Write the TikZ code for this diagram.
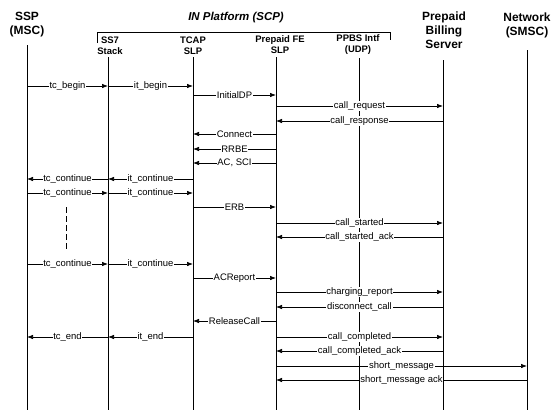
\documentclass[tikz,border=0pt]{standalone}
\usepackage{fontspec}
\setmainfont{Liberation Sans}
\usetikzlibrary{arrows.meta,calc}
\newcommand\msgx[4]{\draw[msg] (#1T |- 0,#3) -- (#2T |- 0,#3) node[midway,lbl]{#4};}
\begin{document}
\begin{tikzpicture}[x=1bp,y=-1bp,
  life/.style={line width=0.8bp},
  msg/.style={line width=0.7bp,-{Latex[length=6bp,width=4.5bp]}},
  lbl/.style={fill=white,inner sep=0.7bp,font=\fontsize{9.5}{10}\selectfont},
  hdr/.style={font=\fontsize{12}{14}\selectfont\bfseries,align=center},
  sub/.style={font=\fontsize{9.5}{11}\selectfont\bfseries,align=center}]
\useasboundingbox[fill=white] (0,0) rectangle (552,410);
% headers
\node[hdr] (hssp) at (27,25) {SSP\\(MSC)};
\node[hdr,font=\fontsize{11.5}{13}\selectfont\bfseries\itshape] (hin) at (236,18) {IN Platform (SCP)};
\node[hdr] (hbill) at (444,30.5) {Prepaid\\Billing\\Server};
\node[hdr] (hnet) at (527,25) {Network\\(SMSC)};
\node[sub] (hss7) at (110,46) {SS7\\Stack};
\node[sub] (htcap) at (193,46) {TCAP\\SLP};
\node[sub] (hfe) at (280,45) {Prepaid FE\\SLP};
\node[sub] (hppbs) at (358,45) {PPBS Intf\\(UDP)};
% bracket
\coordinate (brA) at (97,43); \coordinate (brB) at (97,32);
\coordinate (brC) at (390,32); \coordinate (brD) at (390,40);
\draw[life] (brA) -- (brB) -- (brC) -- (brD);
% lifelines
\coordinate (sspT) at (27,45);   \coordinate (sspB) at (27,410);
\coordinate (ss7T) at (108,57);  \coordinate (ss7B) at (108,410);
\coordinate (tcapT) at (193,57); \coordinate (tcapB) at (193,410);
\coordinate (feT) at (276,57);   \coordinate (feB) at (276,410);
\coordinate (ppbsT) at (359,58); \coordinate (ppbsB) at (359,410);
\coordinate (billT) at (443,60); \coordinate (billB) at (443,410);
\coordinate (netT) at (527,50);  \coordinate (netB) at (527,410);
\foreach \n in {ssp,ss7,tcap,fe,ppbs,bill,net} \draw[life] (\n T) -- (\n B);
% dashed continuation
\coordinate (dashT) at (66,207); \coordinate (dashB) at (66,250);
\draw[life,dash pattern=on 6bp off 3bp] (dashT) -- (dashB);
% messages
\msgx{ssp}{ss7}{86}{tc\_begin}
\msgx{ss7}{tcap}{86}{it\_begin}
\msgx{tcap}{fe}{95}{InitialDP}
\msgx{fe}{bill}{106}{call\_request}
\msgx{bill}{fe}{121}{call\_response}
\msgx{fe}{tcap}{134}{Connect}
\msgx{fe}{tcap}{149}{RRBE}
\msgx{fe}{tcap}{163}{AC, SCI}
\msgx{tcap}{ss7}{179}{it\_continue}
\msgx{ss7}{ssp}{179}{tc\_continue}
\msgx{ssp}{ss7}{193}{tc\_continue}
\msgx{ss7}{tcap}{193}{it\_continue}
\msgx{tcap}{fe}{207}{ERB}
\msgx{fe}{bill}{223}{call\_started}
\msgx{bill}{fe}{237}{call\_started\_ack}
\msgx{ssp}{ss7}{264}{tc\_continue}
\msgx{ss7}{tcap}{264}{it\_continue}
\msgx{tcap}{fe}{278}{ACReport}
\msgx{fe}{bill}{292}{charging\_report}
\msgx{bill}{fe}{307}{disconnect\_call}
\msgx{fe}{tcap}{321}{ReleaseCall}
\msgx{tcap}{ss7}{337}{it\_end}
\msgx{ss7}{ssp}{337}{tc\_end}
\msgx{fe}{bill}{337}{call\_completed}
\msgx{bill}{fe}{351}{call\_completed\_ack}
\msgx{fe}{net}{366}{short\_message}
\msgx{net}{fe}{380}{short\_message ack}
\end{tikzpicture}
\end{document}
